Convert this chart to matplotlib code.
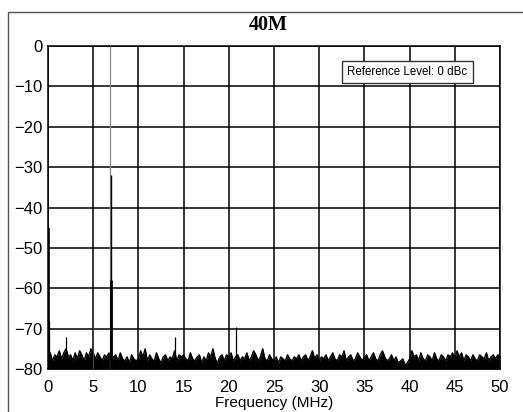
import numpy as np
from matplotlib import pyplot as plt
from matplotlib.patches import Rectangle

# noise floor envelope, one value every 0.25 MHz from 0 to 50 MHz
floor_step = 0.25
floor_db = [
    -77.5, -76, -78, -76.5, -77, -75.5, -77.5, -76, -75, -77, -76.5, -78, -76, -77.5, -75.5, -76.5, -78, -76, -77, -75,
    -76, -77.5, -76, -77, -78, -76.5, -77, -76, -78.5, -77, -76.5, -78, -76, -77.5, -78, -77, -78.5, -76.5, -77.5, -78,
    -77.5, -75.5, -77, -75, -78, -76.5, -77.5, -78, -76, -77.5, -78.5, -77, -76.5, -78, -77, -77.5, -75.5, -78, -76.5, -77,
    -76.5, -77.5, -78, -76, -77.5, -78, -77, -76.5, -78.5, -77, -78, -76, -77, -75, -77.5, -78.5, -77, -76.5, -78, -76.5,
    -77, -76, -78, -77, -76.5, -78, -77, -77.5, -76, -78, -77, -75.5, -76.5, -78, -77, -75, -77.5, -78, -76.5, -77.5,
    -78, -77, -78.5, -77, -77.5, -78, -76.5, -77.5, -78, -77, -77.5, -76.5, -78, -77, -76.5, -78, -77, -75.5, -77.5, -76.5,
    -78, -77, -77.5, -76.5, -78, -77, -76, -77.5, -78, -76.5, -77, -75.5, -78, -77, -76.5, -78, -77.5, -76, -77, -78,
    -77, -76.5, -78, -77, -76, -77.5, -78, -76.5, -75.5, -77, -78, -77.5, -76.5, -78, -77, -78.5, -78, -77.5, -79, -78.5,
    -77.5, -75.5, -77, -76.5, -78, -76, -77.5, -78, -76.5, -77, -78, -76, -77.5, -78, -76.5, -77, -78, -76.5, -77, -76,
    -77.5, -75.5, -77, -76, -78, -76.5, -77, -78, -76.5, -77.5, -78, -76.5, -77, -77.5, -76, -78, -77, -76.5, -77.5, -76.5,
    -77,
]

# discrete tones (MHz, dBc)
tone_mhz = [0.08, 0.15, 2.0, 5.0, 6.9, 6.95, 7.0, 14.0, 20.8]
tone_db = [-45, -68, -72, -68, 0, -32, -58, -72, -69.5]
tone_lw = [1.2, 0.9, 0.9, 0.8, 0.9, 1.0, 2.0, 0.9, 0.9]
tone_color = ["k", "k", "k", "#444444", "#888888", "k", "k", "k", "k"]

freq = np.arange(len(floor_db)) * floor_step

fig = plt.figure(figsize=(5.23, 4.12), dpi=100)
ax = fig.add_axes([48 / 523, 1 - 369 / 412, 452 / 523, 323 / 412])

ax.fill_between(freq, floor_db, -80, color="k", lw=0)
ax.plot(freq, floor_db, color="k", lw=1.0)
for f, d, w, c in zip(tone_mhz, tone_db, tone_lw, tone_color):
    ax.vlines(f, -80, d, color=c, lw=w, zorder=3)

ax.set_xlim(0, 50)
ax.set_ylim(-80, 0)
ax.set_xticks(np.arange(0, 51, 5))
ax.set_yticks(np.arange(-80, 1, 10))
ax.grid(True, color="k", lw=1.1)
ax.set_axisbelow(True)
ax.tick_params(length=0, labelsize=12, pad=4)
ax.tick_params(axis="x", pad=8)
for lab in ax.get_xticklabels() + ax.get_yticklabels():
    lab.set_family("Liberation Sans")
for s in ax.spines.values():
    s.set_linewidth(1.1)
ax.set_xlabel("Frequency (MHz)", family="Liberation Sans", fontsize=11, labelpad=1)

ax.text(0.795, 0.92, "Reference Level: 0 dBc", transform=ax.transAxes,
        ha="center", va="center", fontsize=8.3, family="Liberation Sans",
        bbox=dict(boxstyle="square,pad=0.45", fc="white", ec="#333333", lw=1.0), zorder=5)

fig.text(268 / 523, 1 - 25 / 412, "40M", ha="center", va="center",
         family="Liberation Serif", fontweight="bold", fontsize=14.5)

# outer frame (only top and left edges show in the crop)
fig.add_artist(Rectangle((8 / 523, -0.2), 1.5, 1.2 - 12 / 412, transform=fig.transFigure,
                         fill=False, ec="#555555", lw=1.0))

fig.savefig("out.png", dpi=100)
